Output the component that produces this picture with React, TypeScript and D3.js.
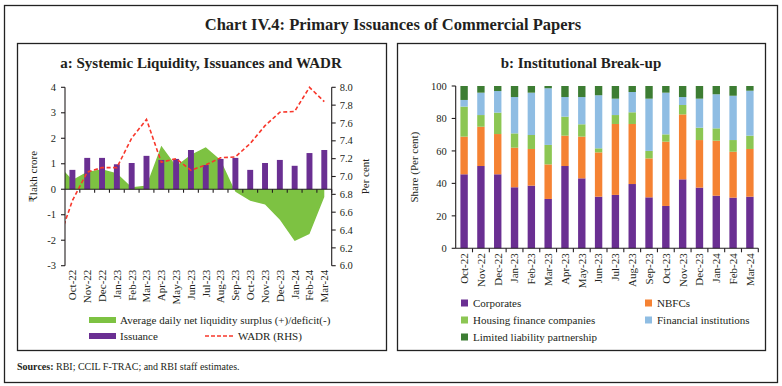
import { useEffect, useRef } from "react";
import * as d3 from "d3";

// categories
const months = [
  "Oct-22", "Nov-22", "Dec-22", "Jan-23", "Feb-23", "Mar-23", "Apr-23", "May-23", "Jun-23",
  "Jul-23", "Aug-23", "Sep-23", "Oct-23", "Nov-23", "Dec-23", "Jan-24", "Feb-24", "Mar-24",
];
// the area and WADR series begin one month earlier (clipped at the axis)
const leadMonth = "Sep-22";

// panel a (₹ lakh crore / per cent)
const issuance = [0.76, 1.23, 1.23, 0.98, 1.03, 1.31, 1.15, 1.19, 1.54, 0.95, 1.19, 1.23, 0.76, 1.03, 1.15, 0.92, 1.42, 1.54];
const liquidity = [1.0, 0.36, 0.69, 0.78, 0.63, 0.08, 0.15, 1.71, 0.91, 1.35, 1.65, 1.15, -0.1, -0.45, -0.6, -1.2, -2.03, -1.76, -0.3];
const wadr = [6.25, 6.73, 7.05, 7.1, 7.1, 7.43, 7.64, 7.16, 7.2, 7.07, 7.13, 7.21, 7.22, 7.37, 7.57, 7.72, 7.73, 8.0, 7.84];
const leftTicks = [-3, -2, -1, 0, 1, 2, 3, 4];
const rightTicks = [6.0, 6.2, 6.4, 6.6, 6.8, 7.0, 7.2, 7.4, 7.6, 7.8, 8.0];

// panel b (share, per cent)
const corporates = [45.6, 50.7, 45.6, 37.6, 38.6, 30.4, 50.7, 43.1, 31.8, 32.9, 39.6, 31.4, 26.1, 42.5, 37.4, 32.4, 31.2, 31.8];
const nbfcs = [23.2, 24.2, 24.8, 24.4, 22.6, 21.3, 18.7, 25.7, 27.3, 43.7, 37.0, 24.0, 39.6, 40.0, 29.3, 33.9, 28.3, 29.4];
const housing = [18.5, 7.2, 13.2, 8.8, 8.6, 12.0, 11.7, 7.6, 2.5, 5.5, 7.2, 4.6, 4.5, 5.8, 7.6, 7.6, 7.2, 8.2];
const financial = [4.1, 13.8, 13.3, 22.4, 26.1, 34.9, 12.1, 16.8, 32.7, 10.1, 12.5, 32.2, 25.7, 4.9, 17.9, 21.0, 27.3, 27.7];
const llp = [8.6, 4.1, 3.1, 6.8, 4.1, 1.4, 6.8, 6.8, 5.7, 7.8, 3.7, 7.8, 4.1, 6.8, 7.8, 5.1, 6.0, 2.9];
const shareTicks = [0, 20, 40, 60, 80, 100];

const seriesB = [
  { key: "corp", name: "Corporates", color: "#6a2f92", values: corporates },
  { key: "nbfc", name: "NBFCs", color: "#f58233", values: nbfcs },
  { key: "hfc", name: "Housing finance companies", color: "#8cc653", values: housing },
  { key: "fi", name: "Financial institutions", color: "#8fbde3", values: financial },
  { key: "llp", name: "Limited liability partnership", color: "#3d7d33", values: llp },
];

const SERIF = "'Liberation Serif', 'DejaVu Serif', serif";
const GREEN = "#7dc242";
const PURPLE = "#6a2f92";
const RED = "#f8372b";

export default function App() {
  const ref = useRef<SVGSVGElement>(null);

  useEffect(() => {
    document.body.style.margin = "0";
    if (!ref.current) return;
    const svg = d3.select(ref.current);
    svg.selectAll("*").remove();
    svg.attr("font-family", SERIF);

    // frames
    svg.append("rect").attr("x", 4.5).attr("y", 5.5).attr("width", 773).attr("height", 377)
      .attr("fill", "none").attr("stroke", "#222").attr("stroke-width", 1.3);
    svg.append("rect").attr("x", 17.5).attr("y", 43.5).attr("width", 369).attr("height", 307)
      .attr("fill", "none").attr("stroke", "#222").attr("stroke-width", 1.3);
    svg.append("rect").attr("x", 397.5).attr("y", 43.5).attr("width", 368).attr("height", 307)
      .attr("fill", "none").attr("stroke", "#222").attr("stroke-width", 1.3);

    svg.append("text").attr("x", 393).attr("y", 30).attr("text-anchor", "middle")
      .attr("font-size", 16.5).attr("font-weight", "bold").attr("fill", "#231f20")
      .text("Chart IV.4: Primary Issuances of Commercial Papers");
    svg.append("text").attr("x", 201).attr("y", 68).attr("text-anchor", "middle")
      .attr("font-size", 15).attr("font-weight", "bold").attr("fill", "#231f20")
      .text("a: Systemic Liquidity, Issuances and WADR");
    svg.append("text").attr("x", 581).attr("y", 68).attr("text-anchor", "middle")
      .attr("font-size", 15).attr("font-weight", "bold").attr("fill", "#231f20")
      .text("b: Institutional Break-up");

    // ---------- panel a ----------
    const aL = 65, aR = 331.7, aT = 87.3, aB = 265.7;
    const x = d3.scaleBand<string>().domain(months).range([aL, aR]).paddingInner(0.6).paddingOuter(0.3);
    const step = x.step();
    const xAll = d3.scalePoint<string>().domain([leadMonth, ...months])
      .range([aL - step / 2, aR - step / 2]);
    const yL = d3.scaleLinear().domain([-3, 4]).range([aB, aT]);
    const yR = d3.scaleLinear().domain([6, 8]).range([aB, aT]);
    const allMonths = [leadMonth, ...months];

    const clip = svg.append("clipPath").attr("id", "clipA");
    clip.append("rect").attr("x", aL).attr("y", aT - 5).attr("width", aR - aL).attr("height", aB - aT + 10);

    const ga = svg.append("g");
    const area = d3.area<number>()
      .x((_, i) => xAll(allMonths[i]) as number)
      .y0(yL(0))
      .y1((d) => yL(d));
    ga.append("path").datum(liquidity).attr("d", area).attr("fill", GREEN).attr("clip-path", "url(#clipA)");

    ga.selectAll("rect.bar").data(issuance).enter().append("rect")
      .attr("x", (_, i) => x(months[i]) as number)
      .attr("width", x.bandwidth())
      .attr("y", (d) => yL(d))
      .attr("height", (d) => yL(0) - yL(d))
      .attr("fill", PURPLE);

    // axes
    const axA = svg.append("g").attr("stroke", "#231f20").attr("stroke-width", 1.1);
    axA.append("line").attr("x1", aL).attr("x2", aL).attr("y1", aT).attr("y2", aB);
    axA.append("line").attr("x1", aR).attr("x2", aR).attr("y1", aT).attr("y2", aB);
    axA.append("line").attr("x1", aL).attr("x2", aR).attr("y1", yL(0)).attr("y2", yL(0));
    leftTicks.forEach((t) => {
      axA.append("line").attr("x1", aL - 4).attr("x2", aL).attr("y1", yL(t)).attr("y2", yL(t));
    });
    rightTicks.forEach((t) => {
      axA.append("line").attr("x1", aR).attr("x2", aR + 4).attr("y1", yR(t)).attr("y2", yR(t));
    });
    months.forEach((m) => {
      const bx = (x(m) as number) - (step * x.paddingInner()) / 2 + step;
      axA.append("line").attr("x1", bx).attr("x2", bx).attr("y1", yL(0)).attr("y2", yL(0) + 3.5);
    });

    const line = d3.line<number>()
      .x((_, i) => xAll(allMonths[i]) as number)
      .y((d) => yR(d));
    ga.append("path").datum(wadr).attr("d", line).attr("fill", "none")
      .attr("stroke", RED).attr("stroke-width", 1.6).attr("stroke-dasharray", "4,2.5")
      .attr("clip-path", "url(#clipA)");

    const lab = svg.append("g").attr("font-size", 10.5).attr("fill", "#231f20");
    leftTicks.forEach((t) => {
      lab.append("text").attr("x", aL - 9).attr("y", yL(t)).attr("dy", "0.35em")
        .attr("text-anchor", "end").text(String(t));
    });
    rightTicks.forEach((t) => {
      lab.append("text").attr("x", aR + 8).attr("y", yR(t)).attr("dy", "0.35em")
        .text(t.toFixed(1));
    });
    months.forEach((m) => {
      const cx = (x(m) as number) + x.bandwidth() / 2;
      lab.append("text").attr("transform", `translate(${cx},${aB + 4}) rotate(-90)`)
        .attr("dy", "0.35em").attr("text-anchor", "end").attr("font-size", 11).text(m);
    });
    lab.append("text").attr("transform", `translate(37,${(aT + aB) / 2}) rotate(-90)`)
      .attr("text-anchor", "middle").attr("font-size", 11).text("₹lakh crore");
    lab.append("text").attr("transform", `translate(369,${(aT + aB) / 2}) rotate(-90)`)
      .attr("text-anchor", "middle").attr("font-size", 11).text("Per cent");

    // legend a
    const lg = svg.append("g").attr("font-size", 11).attr("fill", "#231f20");
    lg.append("rect").attr("x", 89).attr("y", 317).attr("width", 27).attr("height", 6).attr("fill", GREEN);
    lg.append("text").attr("x", 120).attr("y", 320).attr("dy", "0.35em")
      .text("Average daily net liquidity surplus (+)/deficit(-)");
    lg.append("rect").attr("x", 89).attr("y", 333).attr("width", 27).attr("height", 6).attr("fill", PURPLE);
    lg.append("text").attr("x", 120).attr("y", 336).attr("dy", "0.35em").text("Issuance");
    lg.append("line").attr("x1", 205).attr("x2", 234).attr("y1", 336).attr("y2", 336)
      .attr("stroke", RED).attr("stroke-width", 1.6).attr("stroke-dasharray", "4,2");
    lg.append("text").attr("x", 238).attr("y", 336).attr("dy", "0.35em").text("WADR (RHS)");

    // ---------- panel b ----------
    const bL = 455.7, bR = 758.3, bT = 86, bB = 248.3;
    const xb = d3.scaleBand<string>().domain(months).range([bL, bR]).paddingInner(0.56).paddingOuter(0.28);
    const yb = d3.scaleLinear().domain([0, 100]).range([bB, bT]);
    const table = months.map((m, i) => {
      const row: Record<string, number | string> = { month: m };
      seriesB.forEach((s) => (row[s.key] = s.values[i]));
      return row;
    });
    const stacked = d3.stack<Record<string, number | string>>()
      .keys(seriesB.map((s) => s.key))
      .value((d, k) => d[k] as number)(table);
    const gb = svg.append("g");
    stacked.forEach((layer, li) => {
      gb.append("g").attr("fill", seriesB[li].color).selectAll("rect").data(layer).enter().append("rect")
        .attr("x", (d) => xb(d.data.month as string) as number)
        .attr("width", xb.bandwidth())
        .attr("y", (d) => yb(Math.min(d[1], 100)))
        .attr("height", (d) => yb(d[0]) - yb(Math.min(d[1], 100)));
    });

    const axB = svg.append("g").attr("stroke", "#231f20").attr("stroke-width", 1.1);
    axB.append("line").attr("x1", bL).attr("x2", bL).attr("y1", bT).attr("y2", bB);
    axB.append("line").attr("x1", bL).attr("x2", bR).attr("y1", bB).attr("y2", bB);
    shareTicks.forEach((t) => {
      axB.append("line").attr("x1", bL - 4).attr("x2", bL).attr("y1", yb(t)).attr("y2", yb(t));
    });
    const stepB = xb.step();
    months.forEach((m) => {
      const bx = (xb(m) as number) - (stepB * xb.paddingInner()) / 2 + stepB;
      axB.append("line").attr("x1", bx).attr("x2", bx).attr("y1", bB).attr("y2", bB + 4);
    });

    const labB = svg.append("g").attr("font-size", 10.5).attr("fill", "#231f20");
    shareTicks.forEach((t) => {
      labB.append("text").attr("x", bL - 9).attr("y", yb(t)).attr("dy", "0.35em")
        .attr("text-anchor", "end").text(String(t));
    });
    months.forEach((m) => {
      const cx = (xb(m) as number) + xb.bandwidth() / 2;
      labB.append("text").attr("transform", `translate(${cx},${bB + 5}) rotate(-90)`)
        .attr("dy", "0.35em").attr("text-anchor", "end").attr("font-size", 11).text(m);
    });
    labB.append("text").attr("transform", `translate(418,${(bT + bB) / 2}) rotate(-90)`)
      .attr("text-anchor", "middle").attr("font-size", 11).text("Share (Per cent)");

    // legend b
    const legPos = [
      [461, 303], [645, 303], [461, 320], [645, 320], [461, 337],
    ];
    const lgb = svg.append("g").attr("font-size", 11).attr("fill", "#231f20");
    seriesB.forEach((s, i) => {
      const [lx, ly] = legPos[i];
      lgb.append("rect").attr("x", lx).attr("y", ly - 3.5).attr("width", 7).attr("height", 7).attr("fill", s.color);
      lgb.append("text").attr("x", lx + 12).attr("y", ly).attr("dy", "0.35em").text(s.name);
    });

    // sources
    const src = svg.append("text").attr("x", 17).attr("y", 370).attr("font-size", 10).attr("fill", "#231f20");
    src.append("tspan").attr("font-weight", "bold").text("Sources:");
    src.append("tspan").text(" RBI; CCIL F-TRAC; and RBI staff estimates.");
  }, []);

  return <svg ref={ref} width={782} height={386} style={{ display: "block", background: "#fff" }} />;
}
